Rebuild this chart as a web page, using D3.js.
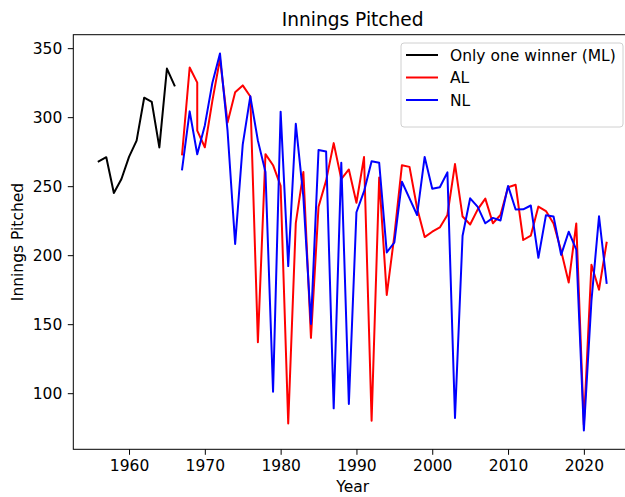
<!DOCTYPE html>
<html>
<head>
<meta charset="utf-8">
<script src="https://cdn.jsdelivr.net/npm/d3@7"></script>
<style>
  body { margin: 0; background: #fff; }
  svg { font-family: "DejaVu Sans", sans-serif; }
</style>
</head>
<body>
<div id="chart"></div>
<script>
// one award for both leagues, 1956-1966
var mlYears = [1956, 1957, 1958, 1959, 1960, 1961, 1962, 1963, 1964, 1965, 1966];
var mlInnings = [268, 271, 245.1, 255.2, 271.2, 283, 314.1, 311, 278.1, 335.2, 323];

// AL winners (1969 was a tie, so two points)
var alYears = [1967, 1968, 1969, 1969, 1970, 1971, 1972, 1973, 1974, 1975, 1976, 1977, 1978, 1979,
  1980, 1981, 1982, 1983, 1984, 1985, 1986, 1987, 1988, 1989, 1990, 1991, 1992, 1993, 1994, 1995,
  1996, 1997, 1998, 1999, 2000, 2001, 2002, 2003, 2004, 2005, 2006, 2007, 2008, 2009, 2010, 2011,
  2012, 2013, 2014, 2015, 2016, 2017, 2018, 2019, 2020, 2021, 2022, 2023];
var alInnings = [273.1, 336, 325, 290.2, 278.2, 312, 342.2, 296.1, 318.1, 323, 315, 137, 273.2, 265.2,
  250.2, 78, 223.2, 260.2, 140.1, 235.1, 254, 281.2, 255.1, 262.1, 238, 271.1, 80, 256.2, 171.2, 214.1,
  265.2, 264, 234.2, 213.1, 217, 220.1, 229.1, 266, 228, 222.2, 233.2, 241, 223.1, 229.1, 249.2, 251,
  211, 214.1, 235.2, 232, 223, 203.2, 180.2, 223, 77.1, 193.1, 175, 209];

// NL winners
var nlYears = d3.range(1967, 2024);
var nlInnings = [262.1, 304.2, 273.1, 294, 325, 346.1, 290, 208.1, 280.1, 315.1, 283, 260.2, 101.1,
  304, 192.1, 295.2, 242.2, 150.1, 276.2, 275.1, 89, 267, 92.2, 231.1, 246.2, 268, 267, 202, 209.2,
  253.2, 241.1, 229.1, 271.2, 248.2, 249.2, 260, 82.1, 214.1, 241.2, 235, 223.1, 227, 225.1, 250.2,
  233.1, 233.2, 236, 198.1, 229, 228.1, 200.2, 217, 204, 73, 167, 228.2, 180];

var yTicks = [100, 150, 200, 250, 300, 350];
var xTicks = [1960, 1970, 1980, 1990, 2000, 2010, 2020];

var seriesNames = ["Only one winner (ML)", "AL", "NL"];
var seriesColors = ["#000000", "#ff0000", "#0000ff"];

var width = 625, height = 497;
var plotLeft = 73.3, plotRight = 632, plotTop = 34.7, plotBottom = 449.3;

var allYears = mlYears.concat(alYears, nlYears);
var allInnings = mlInnings.concat(alInnings, nlInnings);
var xMin = d3.min(allYears), xMax = d3.max(allYears);
var yMin = d3.min(allInnings), yMax = d3.max(allInnings);
var xPad = (xMax - xMin) * 0.05, yPad = (yMax - yMin) * 0.05;

var x = d3.scaleLinear().domain([xMin - xPad, xMax + xPad]).range([plotLeft, plotRight]);
var y = d3.scaleLinear().domain([yMin - yPad, yMax + yPad]).range([plotBottom, plotTop]);

var svg = d3.select("#chart").append("svg")
  .attr("width", width)
  .attr("height", height);

svg.append("defs").append("clipPath").attr("id", "plotclip")
  .append("rect")
  .attr("x", plotLeft).attr("y", plotTop)
  .attr("width", plotRight - plotLeft).attr("height", plotBottom - plotTop);

var line = d3.line()
  .x(function(d) { return x(d[0]); })
  .y(function(d) { return y(d[1]); });

var series = [
  d3.zip(mlYears, mlInnings),
  d3.zip(alYears, alInnings),
  d3.zip(nlYears, nlInnings)
];

var plot = svg.append("g").attr("clip-path", "url(#plotclip)");
series.forEach(function(s, i) {
  plot.append("path")
    .datum(s)
    .attr("d", line)
    .attr("fill", "none")
    .attr("stroke", seriesColors[i])
    .attr("stroke-width", 2)
    .attr("stroke-linejoin", "round")
    .attr("stroke-linecap", "square");
});

// axes
var xAxis = svg.append("g")
  .attr("transform", "translate(0," + plotBottom + ")")
  .call(d3.axisBottom(x).tickValues(xTicks).tickFormat(d3.format("d")).tickSize(5.5).tickPadding(5.5));
var yAxis = svg.append("g")
  .attr("transform", "translate(" + plotLeft + ",0)")
  .call(d3.axisLeft(y).tickValues(yTicks).tickFormat(d3.format("d")).tickSize(5.5).tickPadding(5.5));

[xAxis, yAxis].forEach(function(ax) {
  ax.select(".domain").remove();
  ax.selectAll(".tick line").attr("stroke", "#000").attr("stroke-width", 1);
  ax.selectAll(".tick text")
    .attr("fill", "#000")
    .style("font-size", "15.5px")
    .style("font-family", "'DejaVu Sans', sans-serif");
});

// frame
svg.append("rect")
  .attr("x", plotLeft).attr("y", plotTop)
  .attr("width", plotRight - plotLeft).attr("height", plotBottom - plotTop)
  .attr("fill", "none")
  .attr("stroke", "#000")
  .attr("stroke-width", 1);

// title + labels
svg.append("text")
  .attr("x", (plotLeft + plotRight) / 2)
  .attr("y", 26)
  .attr("text-anchor", "middle")
  .style("font-size", "18.6px")
  .text("Innings Pitched");

svg.append("text")
  .attr("x", (plotLeft + plotRight) / 2)
  .attr("y", 492)
  .attr("text-anchor", "middle")
  .style("font-size", "15.5px")
  .text("Year");

svg.append("text")
  .attr("transform", "translate(23," + ((plotTop + plotBottom) / 2) + ") rotate(-90)")
  .attr("text-anchor", "middle")
  .style("font-size", "15.5px")
  .text("Innings Pitched");

// legend
var legX = 401, legY = 43, legW = 222, legH = 84;
var legend = svg.append("g");
legend.append("rect")
  .attr("x", legX).attr("y", legY)
  .attr("width", legW).attr("height", legH)
  .attr("rx", 3)
  .attr("fill", "#fff")
  .attr("fill-opacity", 0.8)
  .attr("stroke", "#d0d0d0")
  .attr("stroke-width", 1);

seriesNames.forEach(function(name, i) {
  var ry = legY + 12 + i * 22.5;
  legend.append("line")
    .attr("x1", legX + 5).attr("x2", legX + 37)
    .attr("y1", ry).attr("y2", ry)
    .attr("stroke", seriesColors[i])
    .attr("stroke-width", 2);
  legend.append("text")
    .attr("x", legX + 49)
    .attr("y", ry + 5.5)
    .style("font-size", "15.5px")
    .text(name);
});
</script>
</body>
</html>
